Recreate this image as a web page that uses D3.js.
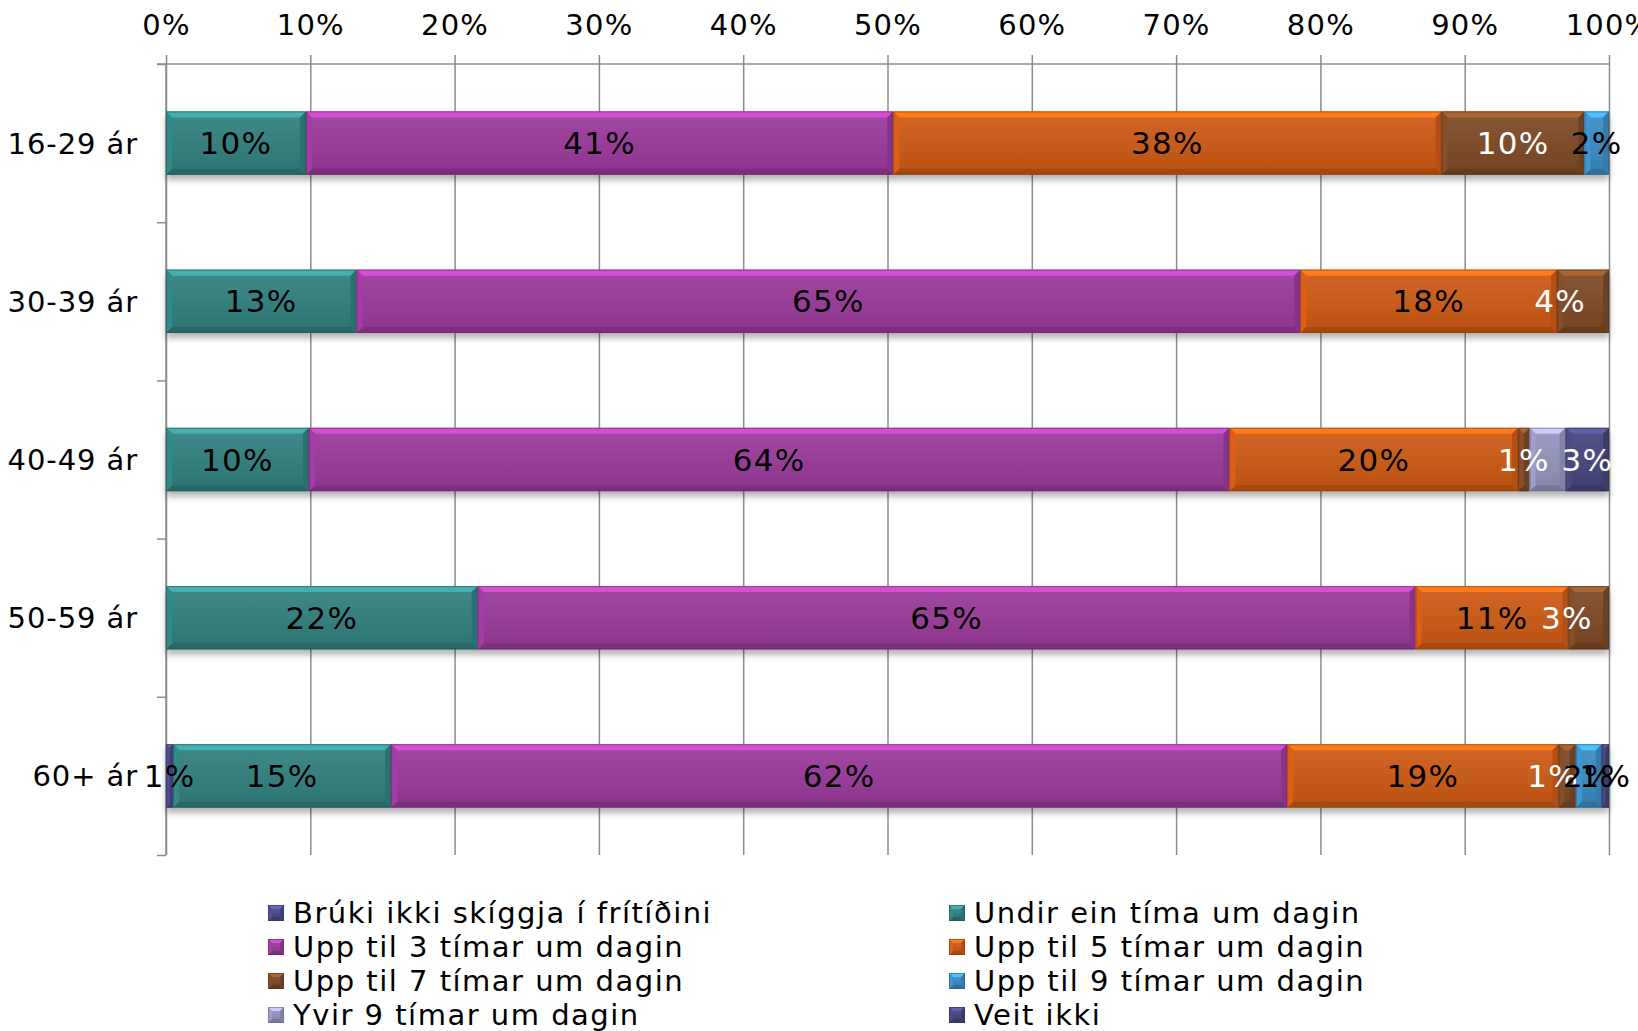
<!DOCTYPE html>
<html>
<head>
<meta charset="utf-8">
<script src="https://cdn.jsdelivr.net/npm/d3@7/dist/d3.min.js"></script>
<style>
  html, body { margin: 0; padding: 0; background: #ffffff; }
  svg { display: block; font-family: "DejaVu Sans", Verdana, sans-serif; }
</style>
</head>
<body>
<svg id="chart" width="1638" height="1031"></svg>
<script>
// Age groups (rows of the chart)
const categories = ["16-29 ár", "30-39 ár", "40-49 ár", "50-59 ár", "60+ ár"];

// Answer options, stacked left to right
const seriesNames = [
  "Brúki ikki skíggja í frítíðini",
  "Undir ein tíma um dagin",
  "Upp til 3 tímar um dagin",
  "Upp til 5 tímar um dagin",
  "Upp til 7 tímar um dagin",
  "Upp til 9 tímar um dagin",
  "Yvir 9 tímar um dagin",
  "Veit ikki"
];

// Share of each age group (%), one array per answer option
const bruki  = [0,    0,    0,    0,    0.5];
const undir  = [9.7,  13.2, 9.9,  21.6, 15.1];
const upp3   = [40.7, 65.4, 63.8, 65.0, 62.1];
const upp5   = [38.0, 17.8, 20.0, 10.6, 18.8];
const upp7   = [9.9,  3.6,  0.8,  2.8,  1.2];
const upp9   = [1.7,  0,    0,    0,    1.8];
const yvir   = [0,    0,    2.5,  0,    0];
const veit   = [0,    0,    3.0,  0,    0.5];

// Axis tick values (%)
const xTicks = [0, 10, 20, 30, 40, 50, 60, 70, 80, 90, 100];

// Segments whose value label is not shown
const hiddenLabels = [["40-49 ár", "Yvir 9 tímar um dagin"]];

const seriesValues = [bruki, undir, upp3, upp5, upp7, upp9, yvir, veit];
const colors = ["#4a4a8c", "#31807f", "#9a3a9a", "#cc5a15", "#7d4a26", "#3b8bc2", "#9494bc", "#46467c"];
const labelColors = ["#000", "#000", "#000", "#000", "#fff", "#000", "#fff", "#fff"];

// Per-label tweaks (placement and colour) keyed by "row|series"
const labelNudge = {
  "30-39 ár|Upp til 7 tímar um dagin": -23,
  "50-59 ár|Upp til 7 tímar um dagin": -22,
  "60+ ár|Upp til 7 tímar um dagin": -14
};
const labelColorOverride = { "60+ ár|Veit ikki": "#000" };

const svg = d3.select("#chart");
const defs = svg.append("defs");
const shadow = defs.append("filter").attr("id", "shadow")
  .attr("x", "-5%").attr("y", "-30%").attr("width", "110%").attr("height", "170%");
shadow.append("feDropShadow").attr("dx", 0).attr("dy", 5).attr("stdDeviation", 3)
  .attr("flood-color", "#000").attr("flood-opacity", 0.3);

// subtle sheen over the front face
const face = defs.append("linearGradient").attr("id", "face")
  .attr("x1", 0).attr("y1", 0).attr("x2", 0).attr("y2", 1);
face.append("stop").attr("offset", "0%").attr("stop-color", "#fff").attr("stop-opacity", 0.06);
face.append("stop").attr("offset", "100%").attr("stop-color", "#000").attr("stop-opacity", 0.08);

const plotL = 166, plotR = 1609, plotT = 64, plotB = 855;
const x = d3.scaleLinear().domain([0, 100]).range([plotL, plotR]);
const y = d3.scaleBand().domain(categories).range([plotT, plotB])
  .paddingInner(0.6).paddingOuter(0.3);

// vertical gridlines
svg.append("g")
  .attr("transform", `translate(0,${plotT})`)
  .call(d3.axisTop(x).tickValues(xTicks).tickSize(-(plotB - plotT)).tickFormat(""))
  .call(g => g.select(".domain").remove())
  .call(g => g.selectAll("line").attr("stroke", "#8c8c8c").attr("stroke-width", 1.5));

// top value axis
svg.append("g")
  .attr("transform", `translate(0,${plotT})`)
  .call(d3.axisTop(x).tickValues(xTicks).tickSize(9).tickPadding(20).tickFormat(d => d + "%"))
  .call(g => g.select(".domain").attr("stroke", "#8c8c8c").attr("stroke-width", 1.5)
    .attr("d", `M${plotL - 9},0H${plotR}`))
  .call(g => g.selectAll("line").attr("stroke", "#8c8c8c").attr("stroke-width", 1.5))
  .call(g => g.selectAll("text").attr("fill", "#000").attr("font-size", 29)
    .attr("letter-spacing", 1.2)
    .attr("font-family", "DejaVu Sans, Verdana, sans-serif"));

// left category axis: ticks at band boundaries
const yEdges = d3.scaleLinear().domain([0, categories.length]).range([plotT, plotB]);
svg.append("g")
  .attr("transform", `translate(${plotL},0)`)
  .call(d3.axisLeft(yEdges).ticks(categories.length).tickSize(9).tickFormat(""))
  .call(g => g.select(".domain").attr("stroke", "#8c8c8c").attr("stroke-width", 1.5)
    .attr("d", `M0,${plotT}V${plotB}`))
  .call(g => g.selectAll("line").attr("stroke", "#8c8c8c").attr("stroke-width", 1.5));

svg.append("g").selectAll("text").data(categories).join("text")
  .attr("x", 138)
  .attr("y", d => y(d) + y.bandwidth() / 2)
  .attr("dy", "0.36em")
  .attr("text-anchor", "end")
  .attr("font-size", 29)
  .attr("letter-spacing", 0.9)
  .text(d => d);

// bevelled block, drawn from a rect
function bevelBlock(g, x0, y0, w, h, color, b) {
  const c = d3.color(color);
  const bb = Math.min(b, w / 2, h / 2);
  g.append("rect").attr("x", x0).attr("y", y0).attr("width", w).attr("height", h)
    .attr("fill", color);
  const poly = (pts, fill) => g.append("polygon")
    .attr("points", pts.map(p => p.join(",")).join(" "))
    .attr("fill", fill);
  poly([[x0, y0], [x0 + w, y0], [x0 + w - bb, y0 + bb], [x0 + bb, y0 + bb]], c.brighter(0.9));
  poly([[x0, y0 + h], [x0 + w, y0 + h], [x0 + w - bb, y0 + h - bb], [x0 + bb, y0 + h - bb]], c.darker(0.6));
  poly([[x0, y0], [x0 + bb, y0 + bb], [x0 + bb, y0 + h - bb], [x0, y0 + h]], c.brighter(0.2));
  poly([[x0 + w, y0], [x0 + w - bb, y0 + bb], [x0 + w - bb, y0 + h - bb], [x0 + w, y0 + h]], c.darker(0.35));
  g.append("rect").attr("x", x0 + bb).attr("y", y0 + bb)
    .attr("width", Math.max(0, w - 2 * bb)).attr("height", Math.max(0, h - 2 * bb))
    .attr("fill", "url(#face)");
  g.append("rect").attr("x", x0 + 0.5).attr("y", y0 + 0.5)
    .attr("width", Math.max(0, w - 1)).attr("height", h - 1)
    .attr("fill", "none").attr("stroke", c.darker(1)).attr("stroke-width", 1).attr("opacity", 0.6);
}

// stacked data
const rows = categories.map((cat, i) => {
  const o = { cat };
  seriesNames.forEach((s, j) => { o[s] = seriesValues[j][i]; });
  return o;
});
const stacked = d3.stack().keys(seriesNames)(rows);

const barLayer = svg.append("g");
categories.forEach((cat, i) => {
  const g = barLayer.append("g").attr("filter", "url(#shadow)");
  stacked.forEach((layer, j) => {
    const [a, b] = layer[i];
    if (b - a <= 0) return;
    bevelBlock(g, x(a), y(cat), x(b) - x(a), y.bandwidth(), colors[j], 6);
  });
});

// value labels
const labelLayer = svg.append("g").attr("font-size", 31).attr("letter-spacing", 1.3);
categories.forEach((cat, i) => {
  stacked.forEach((layer, j) => {
    const [a, b] = layer[i];
    const v = b - a;
    const name = seriesNames[j];
    if (v <= 0) return;
    if (hiddenLabels.some(h => h[0] === cat && h[1] === name)) return;
    const key = cat + "|" + name;
    labelLayer.append("text")
      .attr("x", (x(a) + x(b)) / 2 + (labelNudge[key] || 0))
      .attr("y", y(cat) + y.bandwidth() / 2)
      .attr("dy", "0.36em")
      .attr("text-anchor", "middle")
      .attr("fill", labelColorOverride[key] || labelColors[j])
      .text(Math.round(seriesValues[j][i]) + "%");
  });
});

// legend: two columns, filled row by row
const legend = svg.append("g").attr("font-size", 29).attr("letter-spacing", 1.5);
const colX = [268, 949], rowY0 = 913, rowStep = 34;
seriesNames.forEach((s, j) => {
  const cx = colX[j % 2], cy = rowY0 + Math.floor(j / 2) * rowStep;
  const g = legend.append("g");
  bevelBlock(g, cx, cy - 8, 16, 16, colors[j], 4);
  legend.append("text").attr("x", cx + 25).attr("y", cy).attr("dy", "0.36em").text(s);
});
</script>
</body>
</html>
